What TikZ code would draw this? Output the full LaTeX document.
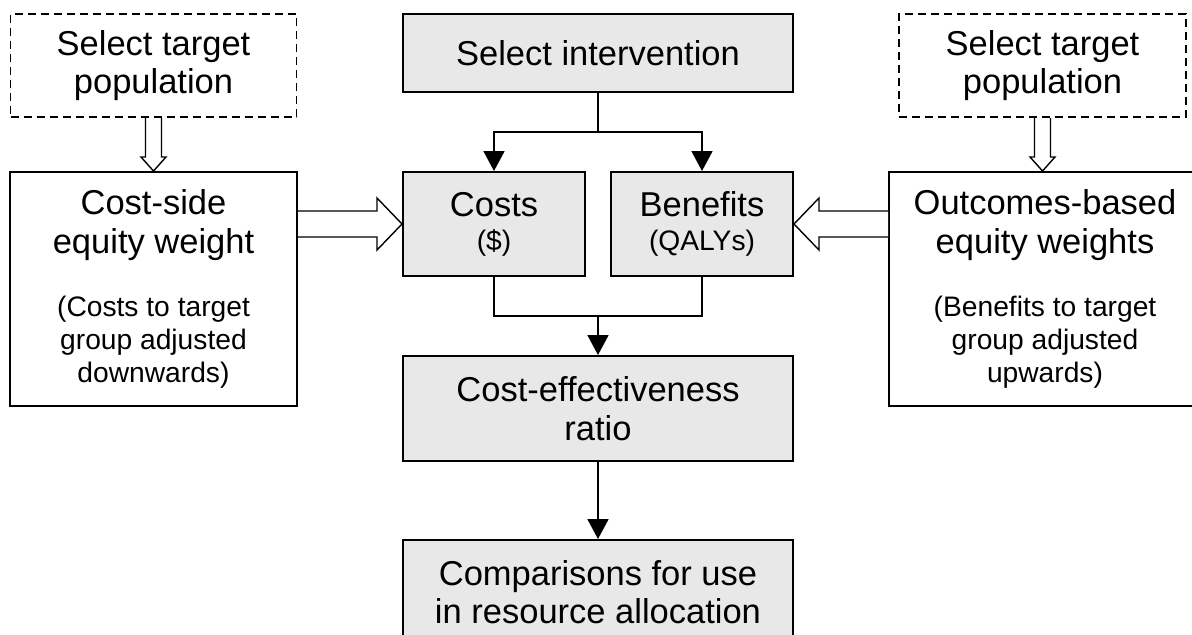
\documentclass[tikz,border=0pt]{standalone}
\usepackage{fontspec}
\setmainfont{Liberation Sans}
\usetikzlibrary{positioning,arrows.meta,calc}
\definecolor{boxgrey}{RGB}{232,232,232}
\newcommand{\subtxt}{\fontsize{14.1}{16.5}\selectfont}
\tikzset{
  basebox/.style={rectangle, line width=1pt, align=center, inner sep=2pt, font=\fontsize{17.25}{19.2}\selectfont},
  greybox/.style={basebox, draw=black, fill=boxgrey},
  whitebox/.style={basebox, draw=black, fill=white},
  dashbox/.style={basebox, draw=black, line width=0.9pt, dash pattern=on 4pt off 2.5pt},
  arrow/.style={-{Triangle[length=10pt,width=10.5pt]}, line width=0.9pt},
  link/.style={line width=0.9pt},
  fatline/.style={line width=0.7pt, fill=white, line join=miter}
}
% hollow block arrow: start, tip, half shaft, half head, head length
\newcommand{\fatarrow}[5]{%
  \coordinate (fa-n) at ($(#2)!#5!(#1)$);
  \draw[fatline] ($(#1)!#3!90:(#2)$) -- ($(fa-n)!#3!90:(#2)$) -- ($(fa-n)!#4!90:(#2)$) -- (#2)
    -- ($(fa-n)!#4!-90:(#2)$) -- ($(fa-n)!#3!-90:(#2)$) -- ($(#1)!#3!-90:(#2)$);}

\begin{document}
\begin{tikzpicture}
\useasboundingbox (0,0) rectangle (596pt,-317pt);
\node[greybox, minimum width=195pt, minimum height=39pt] (sel) at (299pt,-26.5pt) {Select intervention};
\node[greybox, minimum width=91pt, minimum height=52pt, below=39pt of sel.south west, anchor=north west] (costs) {Costs\\[-2.2pt]\subtxt(\$)};
\node[greybox, minimum width=91pt, minimum height=52pt, below=39pt of sel.south east, anchor=north east] (benefits) {Benefits\\[-2.2pt]\subtxt(QALYs)};
\node[greybox, minimum width=195pt, minimum height=52.5pt, below=39pt of costs.south west, anchor=north west] (ratio) {Cost-effectiveness\\ratio};
\node[greybox, minimum width=195pt, minimum height=52pt, below=38.5pt of ratio] (comp) {Comparisons for use\\in resource allocation};
\node[whitebox, minimum width=143.5pt, minimum height=117pt, left=52pt of costs.north west, anchor=north east] (costwt) {Cost-side\\equity weight\\[12.5pt]\subtxt(Costs to target\\[-2.7pt]\subtxt group adjusted\\[-2.7pt]\subtxt downwards)};
\node[whitebox, minimum width=156pt, minimum height=117pt, right=47pt of benefits.north east, anchor=north west] (outwt) {Outcomes-based\\equity weights\\[12.5pt]\subtxt(Benefits to target\\[-2.7pt]\subtxt group adjusted\\[-2.7pt]\subtxt upwards)};
\node[dashbox, minimum width=143pt, minimum height=51.5pt, above=26.5pt of costwt] (lsel) {Select target\\population};
\node[dashbox, minimum width=143.5pt, minimum height=51.5pt, above=26.5pt of outwt, xshift=-1.25pt] (rsel) {Select target\\population};

% solid connectors
\coordinate (split) at ($(sel.south)+(0,-19.5pt)$);
\draw[arrow] (sel.south) -- (split) -| (costs.north);
\draw[arrow] (split) -| (benefits.north);
\coordinate (merge) at ($(costs.south)!0.5!(benefits.south)+(0,-19.5pt)$);
\draw[link] (costs.south) |- (merge) -| (benefits.south);
\draw[arrow] (merge) -- (ratio.north);
\draw[arrow] (ratio) -- (comp);

% hollow arrows
\coordinate (ltip) at (lsel.south |- costwt.north);
\coordinate (rtip) at (rsel.south |- outwt.north);
\fatarrow{lsel.south}{ltip}{4pt}{6.25pt}{7pt}
\fatarrow{rsel.south}{rtip}{4pt}{6.25pt}{7pt}
\coordinate (cstart) at (costwt.east |- costs.west);
\coordinate (bstart) at (outwt.west |- benefits.east);
\fatarrow{cstart}{costs.west}{6.5pt}{13pt}{12.5pt}
\fatarrow{bstart}{benefits.east}{6.5pt}{13pt}{12.5pt}
\end{tikzpicture}
\end{document}
